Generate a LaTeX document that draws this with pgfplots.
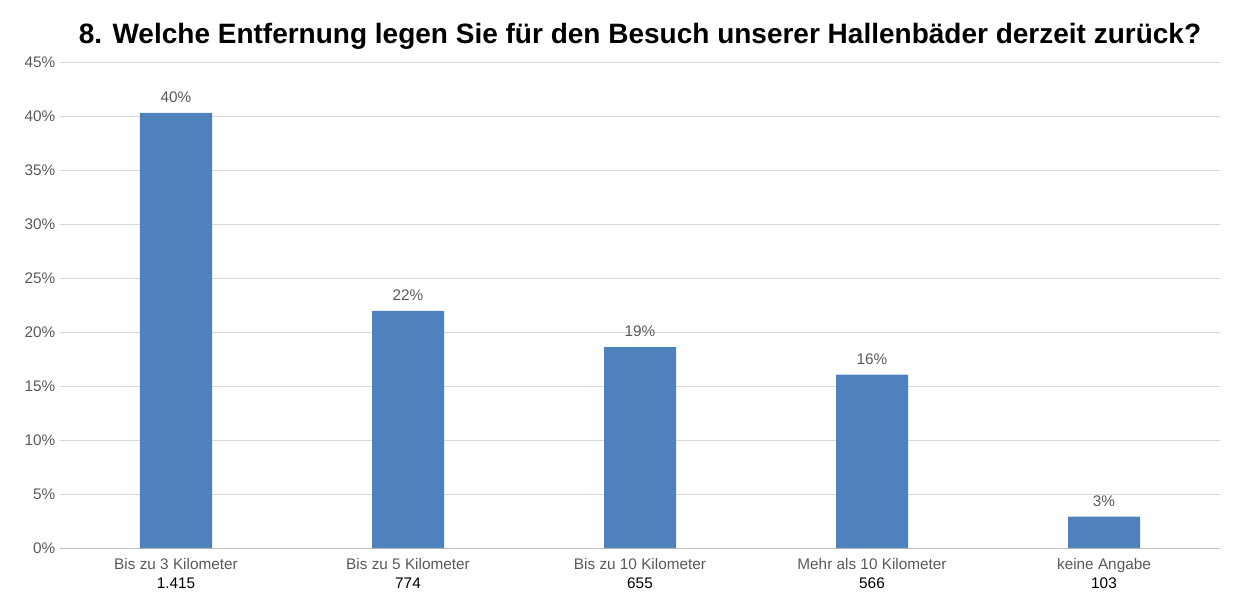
\documentclass[border=0pt]{standalone}
\usepackage{pgfplots}
\pgfplotsset{compat=1.18}
\usepackage{fontspec}
\setmainfont{Liberation Sans}
\definecolor{barblue}{RGB}{79,129,189}
\definecolor{tgray}{RGB}{89,89,89}
\begin{document}
\begin{tikzpicture}
\path[use as bounding box] (-45pt,-39pt) rectangle (882.75pt,411pt);
\begin{axis}[
  scale only axis, width=870pt, height=364.5pt,
  xmin=-0.5, xmax=4.5, ymin=0, ymax=45,
  ytick={0,5,...,45},
  yticklabel={\pgfmathprintnumber{\tick}\%},
  /pgf/number format/assume math mode=true,
  ymajorgrids, grid style={draw=black!15},
  axis line style={draw=none},
  axis x line*=bottom,
  x axis line style={draw=black!25},
  major tick length=0pt,
  xtick={0,...,4},
  xticklabels={{Bis zu 3 Kilometer\\\textcolor{black}{1.415}},{Bis zu 5 Kilometer\\\textcolor{black}{774}},{Bis zu 10 Kilometer\\\textcolor{black}{655}},{Mehr als 10 Kilometer\\\textcolor{black}{566}},{keine Angabe\\\textcolor{black}{103}}},
  xticklabel style={align=center, font=\fontsize{11.5}{14.5}\selectfont, text=tgray, yshift=-4pt},
  yticklabel style={font=\fontsize{11.5}{13}\selectfont, text=tgray},
  title={\bfseries 8. Welche Entfernung legen Sie für den Besuch unserer Hallenbäder derzeit zurück?},
  title style={font=\fontsize{21}{24}\selectfont, yshift=0pt},
  nodes near coords,
  point meta=explicit symbolic,
  nodes near coords style={font=\fontsize{11.5}{13}\selectfont, text=tgray, yshift=4pt},
]
\addplot[ybar, bar width=54pt, fill=barblue, draw=none] coordinates {
 (0,40.3) [40\%]
 (1,21.95) [22\%]
 (2,18.6) [19\%]
 (3,16.05) [16\%]
 (4,2.9) [3\%]
};
\end{axis}
\end{tikzpicture}
\end{document}
